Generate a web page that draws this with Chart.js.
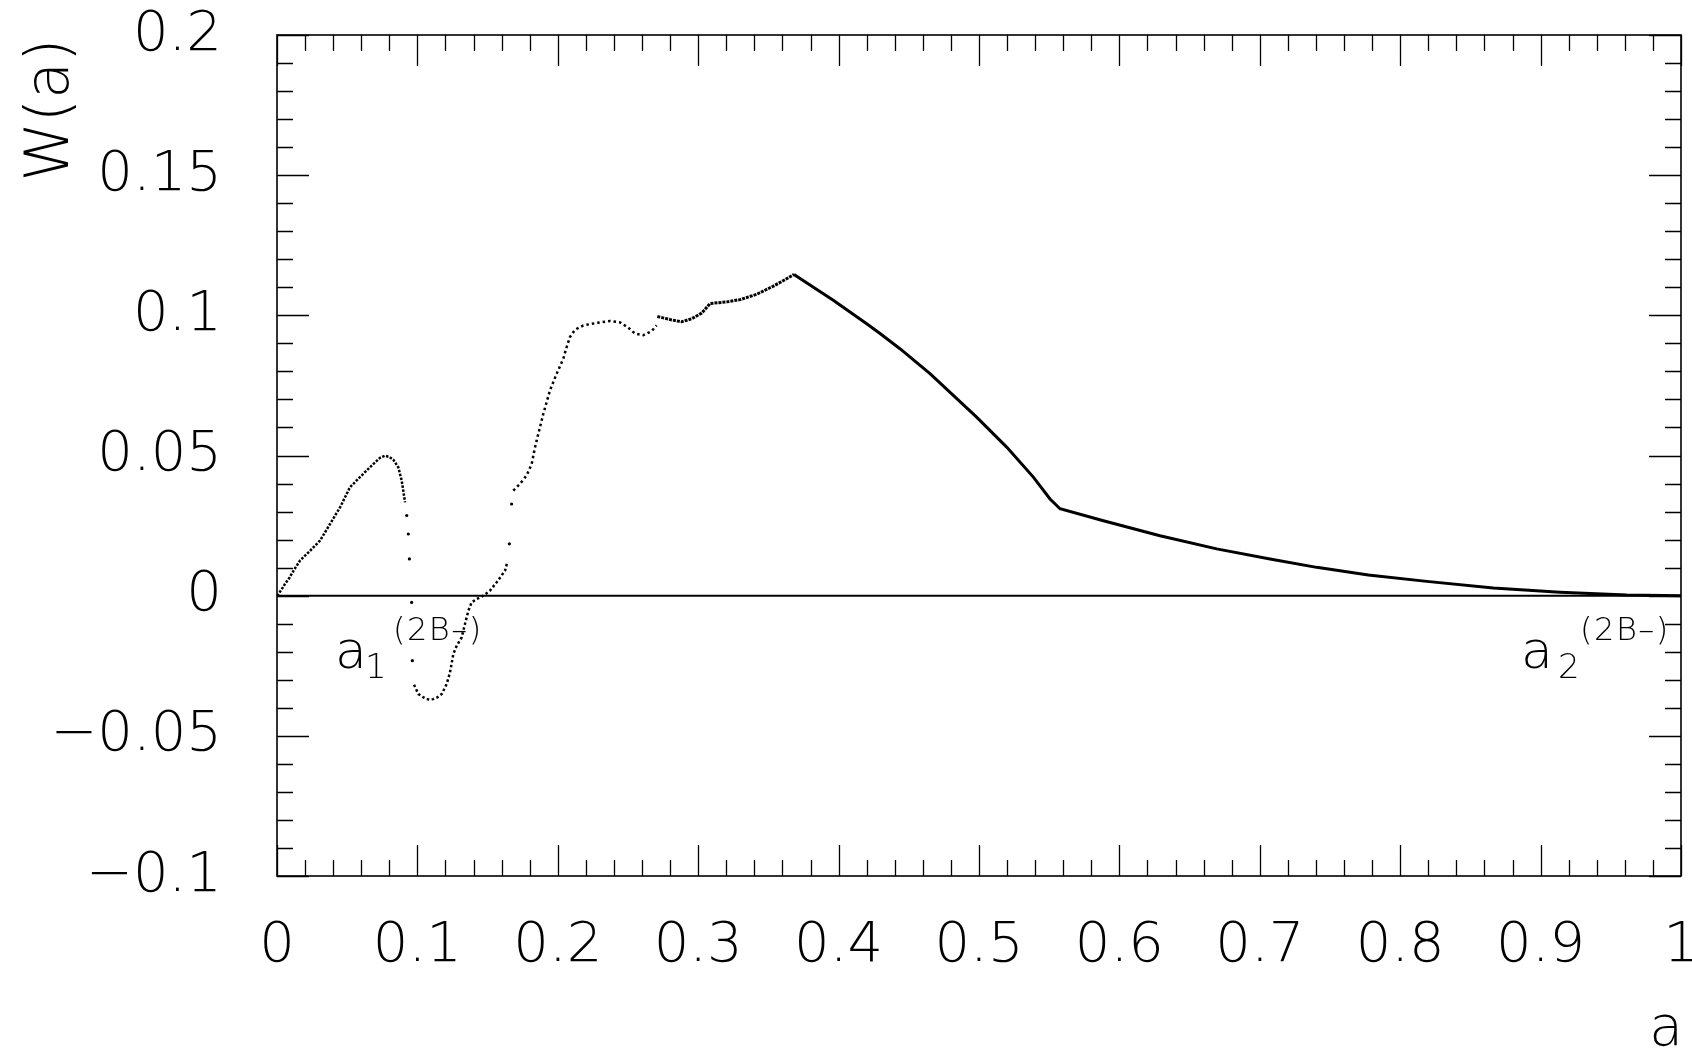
<!DOCTYPE html>
<html>
<head>
<meta charset="utf-8">
<script src="https://cdn.jsdelivr.net/npm/chart.js@4.4.1/dist/chart.umd.min.js"></script>
<style>
  html, body { margin: 0; padding: 0; background: #fff; }
  #wrap { width: 1692px; height: 1048px; }
</style>
</head>
<body>
<div id="wrap"><canvas id="chart" width="1692" height="1048"></canvas></div>
<script>
// values, a on x and W(a) on y
// rising part up to the first hump (dense dots)
const humpA = [0.000, 0.003, 0.0057, 0.009, 0.0125, 0.0164, 0.0235, 0.0306, 0.0378, 0.0449, 0.052, 0.0591, 0.0662, 0.0734, 0.0769, 0.080, 0.0828, 0.0864, 0.0888, 0.0912];
const humpW = [0.000, 0.002, 0.0042, 0.0065, 0.0095, 0.0125, 0.016, 0.0196, 0.0256, 0.0315, 0.0387, 0.0423, 0.0458, 0.0492, 0.0499, 0.0495, 0.0485, 0.0458, 0.0411, 0.0333];

// single isolated dots on the steep drop and steep rise
const jumpA = [0.0924, 0.0935, 0.0943, 0.0959, 0.0964, 0.1655, 0.1671];
const jumpW = [0.0286, 0.022, 0.0131, -0.0024, -0.0232, 0.0185, 0.0327];

// the negative dip
const dipA = [0.0976, 0.1007, 0.104, 0.1066, 0.109, 0.1113, 0.1145, 0.1173, 0.1209, 0.1232, 0.1256, 0.128, 0.1315, 0.1339, 0.1363, 0.1386, 0.1422, 0.147, 0.1517, 0.1565, 0.1624, 0.164];
const dipW = [-0.0318, -0.0351, -0.0362, -0.0369, -0.0371, -0.0369, -0.0362, -0.0351, -0.0315, -0.0274, -0.0208, -0.0179, -0.0149, -0.0101, -0.0054, -0.0024, -0.0012, 0.000, 0.0018, 0.0048, 0.0089, 0.0119];

// climb to the plateau
const climbA = [0.1683, 0.1731, 0.1778, 0.1814, 0.1838, 0.1861, 0.1897, 0.1944, 0.1992, 0.2039, 0.2063, 0.2087, 0.2123, 0.2182, 0.2277, 0.2372, 0.2443, 0.2502, 0.255, 0.2609, 0.2669, 0.2704];
const climbW = [0.0375, 0.0399, 0.0429, 0.047, 0.053, 0.0577, 0.0649, 0.0732, 0.0792, 0.0845, 0.0887, 0.0923, 0.0949, 0.0964, 0.0973, 0.098, 0.0975, 0.0956, 0.0935, 0.0929, 0.0944, 0.0964];

// plateau up to the peak
const plateauA = [0.2709, 0.2799, 0.2882, 0.2954, 0.3025, 0.3084, 0.3203, 0.3298, 0.3417, 0.3535, 0.3618, 0.3682];
const plateauW = [0.0996, 0.0985, 0.0977, 0.0988, 0.1008, 0.1042, 0.1048, 0.1056, 0.1075, 0.1104, 0.1127, 0.1146];

// solid tail after the peak
const tailA = [0.3682, 0.3962, 0.42, 0.4295, 0.4437, 0.4651, 0.4983, 0.5197, 0.5387, 0.5506, 0.5577, 0.5886, 0.6289, 0.6693, 0.7073, 0.7405, 0.7773, 0.8189, 0.8663, 0.9138, 0.9613, 1.0];
const tailW = [0.1146, 0.1054, 0.097, 0.0935, 0.0881, 0.0792, 0.0637, 0.053, 0.0423, 0.0345, 0.031, 0.0267, 0.0214, 0.0167, 0.0131, 0.0101, 0.0074, 0.0051, 0.0027, 0.0012, 0.0002, 0.000];

// zero reference line
const zeroA = [0, 1];
const zeroW = [0, 0];

// tick labels
const xTicks = [0, 0.1, 0.2, 0.3, 0.4, 0.5, 0.6, 0.7, 0.8, 0.9, 1];
const yTicks = [-0.1, -0.05, 0, 0.05, 0.1, 0.15, 0.2];

const FONT = '"DejaVu Sans", "Liberation Sans", sans-serif';

function pts(xs, ys) {
    return xs.map((v, i) => ({ x: v, y: ys[i] }));
}

function fmt(v) {
    const r = Math.round(v * 100) / 100;
    if (r === 0) return '0';
    return String(r).replace('-', '\u2212');
}

// frame, inside ticks on all four sides, titles and the two markers
const framePlugin = {
    id: 'framePlugin',
    afterDraw(chart) {
        const { ctx, chartArea: a, scales: { x, y } } = chart;
        ctx.save();
        ctx.strokeStyle = '#000';
        ctx.lineWidth = 1.6;
        ctx.strokeRect(a.left, a.top, a.right - a.left, a.bottom - a.top);

        ctx.lineWidth = 1.3;
        ctx.beginPath();
        for (let i = 0; i <= 50; i++) {
            const px = Math.round(x.getPixelForValue(i * 0.02)) + 0.5;
            const len = i % 5 === 0 ? 31 : 16;
            ctx.moveTo(px, a.bottom); ctx.lineTo(px, a.bottom - len);
            ctx.moveTo(px, a.top); ctx.lineTo(px, a.top + len);
        }
        for (let i = 0; i <= 30; i++) {
            const py = Math.round(y.getPixelForValue(-0.1 + i * 0.01)) + 0.5;
            const len = i % 5 === 0 ? 32 : 16;
            ctx.moveTo(a.left, py); ctx.lineTo(a.left + len, py);
            ctx.moveTo(a.right, py); ctx.lineTo(a.right - len, py);
        }
        ctx.stroke();

        ctx.fillStyle = '#000';
        // y title, reads bottom to top
        ctx.save();
        ctx.translate(68, 110);
        ctx.rotate(-Math.PI / 2);
        ctx.font = '200 60px ' + FONT;
        ctx.textAlign = 'center';
        ctx.textBaseline = 'alphabetic';
        ctx.fillText('W(a)', 0, 0);
        ctx.restore();

        // x title
        ctx.font = '200 55px ' + FONT;
        ctx.textAlign = 'right';
        ctx.textBaseline = 'alphabetic';
        ctx.fillText('a', a.right + 2, 1045);

        // a_1^(2B-) and a_2^(2B-)
        const marks = [
            { at: 0.0434, sub: '1', subDx: 27, supDx: 55 },
            { at: 0.8882, sub: '2', subDx: 34, supDx: 56 }
        ];
        const y0 = y.getPixelForValue(0);
        ctx.textAlign = 'left';
        marks.forEach(m => {
            const px = x.getPixelForValue(m.at);
            ctx.font = '200 52px ' + FONT;
            ctx.fillText('a', px - 3, y0 + 72);
            ctx.font = '200 34px ' + FONT;
            ctx.fillText(m.sub, px + m.subDx, y0 + 82);
            ctx.font = '200 32px ' + FONT;
            ctx.letterSpacing = '1.5px';
            ctx.fillText('(2B\u2013)', px + m.supDx, y0 + 44);
            ctx.letterSpacing = '0px';
        });
        ctx.restore();
    }
};

document.addEventListener('DOMContentLoaded', () => {
    const ctx = document.getElementById('chart').getContext('2d');
    const dotted = { showLine: true, borderColor: '#000', borderWidth: 2.5, pointRadius: 0, fill: false, tension: 0 };
    new Chart(ctx, {
        type: 'scatter',
        data: {
            datasets: [
                { ...dotted, label: 'zero', data: pts(zeroA, zeroW), borderWidth: 2 },
                { ...dotted, label: 'hump', data: pts(humpA, humpW), borderDash: [2.5, 1.5] },
                { label: 'jumps', data: pts(jumpA, jumpW), showLine: false, pointRadius: 1.6, pointBackgroundColor: '#000', pointBorderWidth: 0 },
                { ...dotted, label: 'dip', data: pts(dipA, dipW), borderDash: [2.5, 2.5] },
                { ...dotted, label: 'climb', data: pts(climbA, climbW), borderDash: [2.5, 3] },
                { ...dotted, label: 'plateau', data: pts(plateauA, plateauW), borderWidth: 3, borderDash: [3, 1] },
                { ...dotted, label: 'tail', data: pts(tailA, tailW), borderWidth: 3 }
            ]
        },
        options: {
            responsive: false,
            animation: false,
            devicePixelRatio: 1,
            layout: { padding: { left: 0, top: 35, right: 11, bottom: 0 } },
            plugins: { legend: { display: false }, tooltip: { enabled: false } },
            scales: {
                x: {
                    type: 'linear', min: 0, max: 1,
                    grid: { display: false }, border: { display: false },
                    afterBuildTicks: s => { s.ticks = xTicks.map(v => ({ value: v })); },
                    afterFit: s => { s.height = 172; s.paddingLeft = 0; s.paddingRight = 0; },
                    ticks: {
                        autoSkip: false, maxRotation: 0, padding: 29, color: '#000',
                        font: { family: FONT, size: 56, weight: 200 },
                        callback: v => fmt(v)
                    }
                },
                y: {
                    type: 'linear', min: -0.1, max: 0.2,
                    grid: { display: false }, border: { display: false },
                    afterBuildTicks: s => { s.ticks = yTicks.map(v => ({ value: v })); },
                    afterFit: s => { s.width = 277; s.paddingTop = 0; s.paddingBottom = 0; },
                    ticks: {
                        autoSkip: false, padding: 47, color: '#000',
                        font: { family: FONT, size: 56, weight: 200 },
                        callback: v => fmt(v)
                    }
                }
            }
        },
        plugins: [framePlugin]
    });
});
</script>
</body>
</html>
